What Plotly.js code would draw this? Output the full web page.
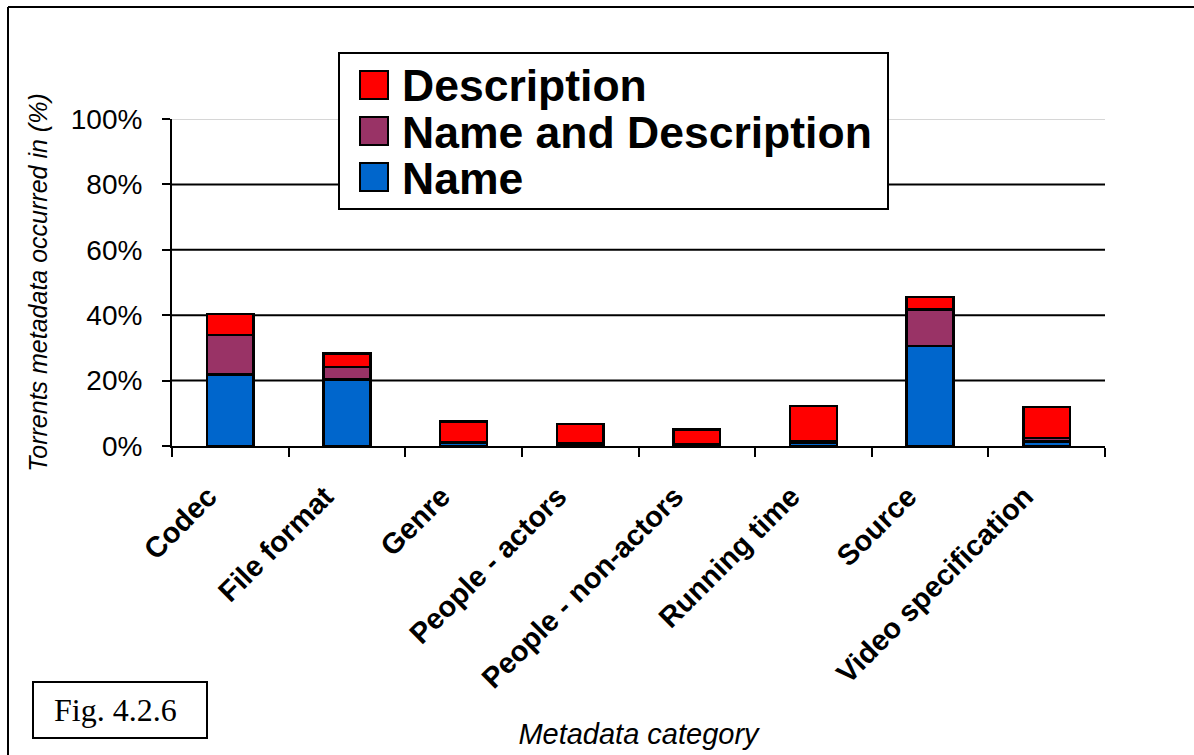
<!DOCTYPE html>
<html>
<head>
<meta charset="utf-8">
<script src="https://cdn.plot.ly/plotly-3.0.1.min.js"></script>
<style>html,body{margin:0;padding:0;background:#fff;}#chart{width:1194px;height:755px;}</style>
</head>
<body>
<div id="chart"></div>
<script>
const categories = ["Codec", "File format", "Genre", "People - actors", "People - non-actors", "Running time", "Source", "Video specification"];
const nameVals = [21.9, 20.3, 1.0, 0.5, 0.3, 1.0, 30.6, 1.4];
const nameDescVals = [12.0, 3.9, 0.3, 0.3, 0.2, 0.5, 11.1, 1.0];
const descVals = [6.4, 4.1, 6.2, 6.0, 4.5, 10.7, 3.9, 9.6];
const seriesNames = ["Name", "Name and Description", "Description"];
const seriesColors = ["#0066CC", "#993366", "#FF0000"];
const yTicks = [0, 20, 40, 60, 80, 100];

const W = 1194, H = 755;
const L = 172, R = 1105, T = 119, B = 446;
const px = x => (x - L) / (R - L);
const py = y => (B - y) / (B - T);

const seriesData = [nameVals, nameDescVals, descVals];
const traces = seriesData.map((vals, i) => ({
  type: 'bar',
  x: categories,
  y: vals,
  name: seriesNames[i],
  marker: {color: seriesColors[i], line: {color: '#000', width: 2.5}},
  showlegend: false,
  hoverinfo: 'x+y+name'
}));

const shapes = [];
yTicks.filter(v => v > 0).forEach(v => {
  shapes.push({type: 'line', xref: 'paper', yref: 'y', x0: 0, x1: 1, y0: v, y1: v,
    line: {color: v === 100 ? '#c8c8c8' : '#000', width: v === 100 ? 1.5 : 2}, layer: 'below'});
});
shapes.push({type: 'line', xref: 'paper', yref: 'paper', x0: px(8), x1: px(1194), y0: py(7), y1: py(7), line: {color: '#000', width: 2}});
shapes.push({type: 'line', xref: 'paper', yref: 'paper', x0: px(8), x1: px(8), y0: py(7), y1: py(755), line: {color: '#000', width: 2}});
shapes.push({type: 'rect', xref: 'paper', yref: 'paper', x0: px(339), x1: px(888), y0: py(53), y1: py(209),
  fillcolor: '#fff', line: {color: '#000', width: 2}, layer: 'above'});
shapes.push({type: 'rect', xref: 'paper', yref: 'paper', x0: px(33), x1: px(207), y0: py(682), y1: py(738),
  fillcolor: 'rgba(0,0,0,0)', line: {color: '#000', width: 2}, layer: 'above'});

const annotations = [];
const legendRows = [85, 131, 177];
[2, 1, 0].forEach((si, r) => {
  const cy = legendRows[r];
  shapes.push({type: 'rect', xref: 'paper', yref: 'paper', x0: px(360), x1: px(388), y0: py(cy - 14), y1: py(cy + 14),
    fillcolor: seriesColors[si], line: {color: '#000', width: 2}, layer: 'above'});
  annotations.push({xref: 'paper', yref: 'paper', x: px(400), y: py(cy + 1), xanchor: 'left', yanchor: 'middle',
    text: '<b>' + seriesNames[si] + '</b>', showarrow: false,
    font: {family: 'Liberation Sans, Arial, sans-serif', size: 44.5, color: '#000'}});
});
annotations.push({xref: 'paper', yref: 'paper', x: px(115), y: py(710), xanchor: 'center', yanchor: 'middle',
  text: 'Fig. 4.2.6', showarrow: false, font: {family: 'Liberation Serif, Times New Roman, serif', size: 32, color: '#000'}});

const layout = {
  width: W, height: H,
  margin: {l: L, r: W - R, t: T, b: H - B, pad: 0},
  paper_bgcolor: '#fff', plot_bgcolor: '#fff',
  barmode: 'stack', bargap: 0.6,
  showlegend: false,
  font: {family: 'Liberation Sans, Arial, sans-serif', color: '#000'},
  xaxis: {
    type: 'category', range: [-0.5, 7.5], showgrid: false, zeroline: false,
    showline: true, linecolor: '#000', linewidth: 2,
    ticks: 'outside', tickson: 'boundaries', ticklen: 9, tickwidth: 2, tickcolor: '#000',
    tickangle: -45, tickfont: {size: 29, family: 'Liberation Sans, Arial, sans-serif', weight: 'bold'},
    ticklabelshift: -22, ticklabelstandoff: 20,
    title: {text: '<i>Metadata category</i>', font: {size: 29}, standoff: 30},
    automargin: false
  },
  yaxis: {
    range: [0, 100], tickvals: yTicks, ticktext: yTicks.map(v => v + '%'),
    showgrid: false, zeroline: false,
    showline: true, linecolor: '#000', linewidth: 2,
    ticks: 'outside', ticklen: 8, tickwidth: 2, tickcolor: '#000',
    tickfont: {size: 28}, ticklabelstandoff: 14,
    title: {text: '<i>Torrents metadata occurred in (%)</i>', font: {size: 25}, standoff: 16},
    automargin: false
  },
  shapes: shapes,
  annotations: annotations
};

Plotly.newPlot('chart', traces, layout, {displayModeBar: false, staticPlot: true});
</script>
</body>
</html>
